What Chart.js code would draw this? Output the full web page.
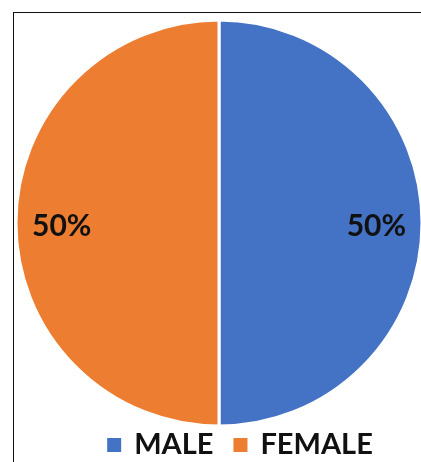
<!DOCTYPE html>
<html>
<head>
<meta charset="utf-8">
<script src="https://cdn.jsdelivr.net/npm/chart.js@4.4.0/dist/chart.umd.min.js"></script>
<style>
  html, body { margin: 0; padding: 0; background: #fff; overflow: hidden; }
  #wrap { position: relative; width: 421px; height: 462px; }
  #frame { position: absolute; left: 13px; top: 12px; width: 420px; height: 460px;
           border-top: 1.5px solid #111; border-left: 1.5px solid #111; }
  #pieChart { position: absolute; left: 0; top: 0; }
</style>
</head>
<body>
<div id="wrap">
  <div id="frame"></div>
  <canvas id="pieChart" width="421" height="462"></canvas>
</div>
<script>
const categories = ['MALE', 'FEMALE'];
const shares = [50, 50];
const sliceColors = ['#4472C4', '#ED7D31'];

const labelFont = 'bold 30px Lato';
const legendFont = 'bold 29px Lato';

// percent labels sitting out toward the rim of each slice
const sliceLabels = {
    id: 'sliceLabels',
    afterDatasetsDraw(chart) {
        const ctx = chart.ctx;
        const meta = chart.getDatasetMeta(0);
        const total = shares.reduce((a, b) => a + b, 0);
        ctx.save();
        ctx.font = labelFont;
        ctx.fillStyle = '#111';
        ctx.textAlign = 'center';
        ctx.textBaseline = 'middle';
        meta.data.forEach((arc, i) => {
            const p = arc.getProps(['x', 'y', 'startAngle', 'endAngle', 'outerRadius'], true);
            const mid = (p.startAngle + p.endAngle) / 2;
            const r = p.outerRadius * 0.775;
            const pct = Math.round(shares[i] / total * 100) + '%';
            ctx.fillText(pct, p.x + Math.cos(mid) * r, p.y + Math.sin(mid) * r + 3);
        });
        ctx.restore();
    }
};

// office-style legend: small square, then big bold text
const bottomLegend = {
    id: 'bottomLegend',
    afterDraw(chart) {
        const ctx = chart.ctx;
        const box = 14, gap = 13, itemGap = 20;
        const y = 444;
        ctx.save();
        ctx.font = legendFont;
        ctx.textBaseline = 'middle';
        const widths = categories.map(c => ctx.measureText(c).width);
        let total = 0;
        widths.forEach((w, i) => { total += box + gap + w + (i ? itemGap : 0); });
        let x = 240 - total / 2;
        categories.forEach((c, i) => {
            ctx.fillStyle = sliceColors[i];
            ctx.fillRect(x, y - box / 2 + 1, box, box);
            x += box + gap;
            ctx.fillStyle = '#111';
            ctx.fillText(c, x, y + 1);
            x += widths[i] + itemGap;
        });
        ctx.restore();
    }
};

new Chart(document.getElementById('pieChart'), {
    type: 'pie',
    data: {
        labels: categories,
        datasets: [{
            data: shares,
            backgroundColor: sliceColors,
            borderColor: '#fff',
            borderWidth: 3
        }]
    },
    options: {
        responsive: false,
        animation: false,
        radius: 203,
        layout: { padding: { left: 18, right: 1, top: 22, bottom: 38 } },
        plugins: {
            legend: { display: false },
            tooltip: { enabled: false }
        }
    },
    plugins: [sliceLabels, bottomLegend]
});
</script>
</body>
</html>
